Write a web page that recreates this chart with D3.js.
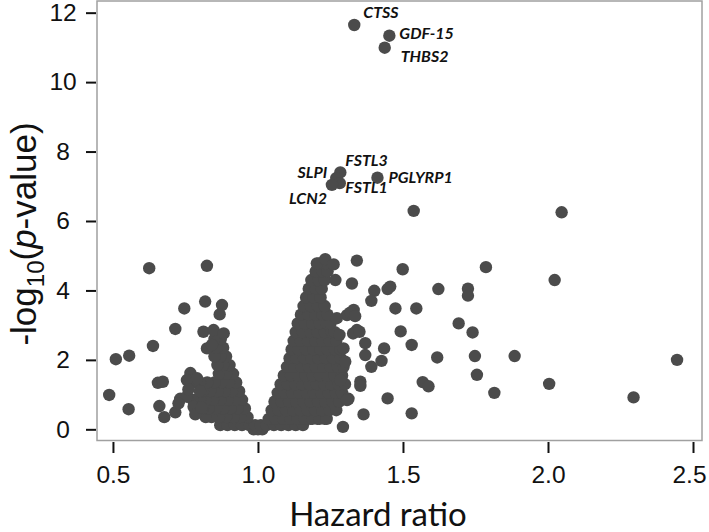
<!DOCTYPE html>
<html><head><meta charset="utf-8">
<script src="https://cdn.jsdelivr.net/npm/d3@7"></script>
<style>
html,body{margin:0;padding:0;background:#fff;}
svg{display:block;}
</style></head>
<body>
<svg id="chart" width="709" height="532"></svg>
<script>
// ---- axis ticks ----
const xTicks = [0.5, 1.0, 1.5, 2.0, 2.5];
const yTicks = [0, 2, 4, 6, 8, 10, 12];

// ---- labelled proteins ----
const labelNames = ["CTSS", "GDF-15", "THBS2", "FSTL3", "SLPI", "FSTL1", "LCN2", "PGLYRP1"];
const labelHR    = [1.332, 1.453, 1.437, 1.284, 1.270, 1.282, 1.255, 1.412];
const labelP     = [11.645, 11.336, 10.99, 7.40, 7.236, 7.09, 7.04, 7.246];

// ---- scattered (isolated) proteins: [hazard ratio, -log10 p] ----
const scatterPoints = [
  [0.487,0.99],[0.510,2.02],[0.556,2.12],[0.554,0.58],[0.625,4.64],[0.638,2.40],
  [0.655,1.34],[0.672,1.37],[0.660,0.67],[0.677,0.35],[0.715,0.49],[0.715,2.89],
  [0.746,3.48],[0.732,0.88],[0.755,0.94],[0.726,0.75],[0.767,1.62],[0.755,1.42],
  [0.778,0.65],[0.784,0.43],[0.790,1.47],[0.818,3.68],[0.824,4.71],[0.876,3.58],
  [0.868,3.31],[0.812,2.81],[0.847,2.86],[0.882,2.76],[0.824,2.33],[0.841,2.43],
  [0.800,1.10],[0.805,0.62],[0.760,1.15],
  [1.341,4.86],[1.203,4.78],[1.232,4.90],[1.261,4.75],[1.267,4.30],[1.324,4.20],
  [1.330,3.44],[1.307,3.29],[1.272,3.20],[1.318,3.36],[1.335,3.26],[1.341,2.86],
  [1.328,2.76],[1.350,2.81],[1.281,2.72],[1.370,2.48],[1.370,2.14],[1.301,1.95],
  [1.295,2.33],[1.391,1.80],[1.401,3.99],[1.391,3.70],[1.284,1.42],[1.353,1.37],
  [1.353,1.25],[1.312,0.88],[1.364,0.43],[1.293,0.07],[1.307,0.84],[1.447,0.89],
  [1.499,4.61],[1.786,4.67],[1.456,4.11],[1.447,4.04],[1.622,4.04],[1.724,4.05],
  [1.724,3.85],[2.023,4.30],[1.474,3.48],[1.546,3.48],[1.692,3.05],[1.492,2.82],
  [1.740,2.79],[1.530,2.43],[1.435,2.33],[1.426,1.97],[1.618,2.07],[1.748,2.11],
  [1.885,2.11],[2.445,2.00],[1.755,1.57],[1.568,1.36],[1.588,1.24],[2.004,1.31],
  [1.815,1.05],[2.295,0.92],[1.530,0.46],[1.537,6.29],[2.047,6.25]
];

// ---- the dense "V": rows of proteins, [-log10 p, [hazard ratios]] ----
const bottomRows = [
  [0.00, [0.985, 1.000, 1.015]],
  [0.12, [0.87,0.895,0.92,0.945,0.97,0.99,1.01,1.03,1.055,1.08,1.105,1.13,1.155]],
  [0.30, [1.18,1.205,1.23]]
];
const leftArmRows = [
  [0.35, [0.964,0.94,0.915,0.89,0.865,0.84,0.82]],
  [0.60, [0.955,0.93,0.905,0.88,0.855,0.83,0.81,0.79]],
  [0.85, [0.945,0.92,0.895,0.87,0.845,0.82,0.80,0.775]],
  [1.10, [0.935,0.91,0.885,0.86,0.835,0.81]],
  [1.35, [0.925,0.90,0.875,0.85,0.825,0.80,0.78]],
  [1.60, [0.914,0.89,0.865]],
  [1.85, [0.902,0.88,0.86]],
  [2.10, [0.89,0.87,0.85]],
  [2.35, [0.88,0.857]],
  [2.60, [0.872,0.85]]
];
const rightArmRows = [
  [0.30, [1.037,1.062,1.087,1.112,1.137,1.162,1.187,1.212,1.237]],
  [0.55, [1.047,1.072,1.097,1.122,1.147,1.172,1.197,1.222,1.247,1.27]],
  [0.80, [1.057,1.082,1.107,1.132,1.157,1.182,1.207,1.232,1.257,1.28]],
  [1.05, [1.068,1.093,1.118,1.143,1.168,1.193,1.218,1.243,1.268,1.29]],
  [1.30, [1.078,1.103,1.128,1.153,1.178,1.203,1.228,1.253,1.278,1.30]],
  [1.55, [1.089,1.114,1.139,1.164,1.189,1.214,1.239,1.264,1.29]],
  [1.80, [1.10,1.125,1.15,1.175,1.20,1.225,1.25,1.275,1.295]],
  [2.05, [1.109,1.134,1.159,1.184,1.209,1.234,1.259,1.285]],
  [2.30, [1.116,1.141,1.166,1.191,1.216,1.241,1.266,1.285]],
  [2.55, [1.123,1.148,1.173,1.198,1.223,1.248,1.27]],
  [2.80, [1.13,1.155,1.18,1.205,1.23,1.255,1.265]],
  [3.05, [1.137,1.162,1.187,1.212,1.237,1.25]],
  [3.30, [1.148,1.173,1.198,1.223,1.24]],
  [3.55, [1.157,1.182,1.207,1.23]],
  [3.80, [1.166,1.191,1.216]],
  [4.05, [1.175,1.20,1.22]],
  [4.30, [1.184,1.209,1.23]],
  [4.55, [1.199,1.222,1.24]],
  [4.78, [1.21,1.235]]
];

// ---- build point table ----
const pts = [];
[bottomRows, leftArmRows, rightArmRows].forEach(rows =>
  rows.forEach(([p, hrs]) => hrs.forEach(hr => pts.push({hr, p}))));
scatterPoints.forEach(([hr, p]) => pts.push({hr, p}));
labelNames.forEach((n, i) => pts.push({hr: labelHR[i], p: labelP[i], name: n}));

// ---- layout ----
const svg = d3.select("#chart");
const box = {left: 97, right: 702, top: 1, bottom: 440.5};
const x = d3.scaleLinear().domain([0.445, 2.531]).range([box.left, box.right]);
const y = d3.scaleLinear().domain([-0.322, 12.336]).range([box.bottom, box.top]);
const dotColor = "#4b4b4b";

// frame
svg.append("rect")
  .attr("x", box.left).attr("y", box.top)
  .attr("width", box.right - box.left).attr("height", box.bottom - box.top)
  .attr("fill", "none").attr("stroke", "#a0a0a0").attr("stroke-width", 1.5);

// points
svg.append("g").selectAll("circle").data(pts).join("circle")
  .attr("cx", d => x(d.hr)).attr("cy", d => y(d.p)).attr("r", 6.2)
  .attr("fill", dotColor);

// y axis
const yAx = svg.append("g").attr("transform", `translate(${box.left - 1},0)`)
  .call(d3.axisLeft(y).tickValues(yTicks).tickSize(10).tickFormat(d3.format("d")));
yAx.select(".domain").remove();
yAx.selectAll(".tick line").attr("stroke", "#111").attr("stroke-width", 2);
yAx.selectAll(".tick text").attr("text-anchor", "middle").attr("x", -33)
  .attr("font-family", "Liberation Sans, Arial, sans-serif").attr("font-size", 24.5).attr("fill", "#111");

// x axis
const xAx = svg.append("g").attr("transform", `translate(0,${box.bottom + 1.5})`)
  .call(d3.axisBottom(x).tickValues(xTicks).tickSize(11).tickFormat(d3.format(".1f")));
xAx.select(".domain").remove();
xAx.selectAll(".tick line").attr("stroke", "#111").attr("stroke-width", 2);
xAx.selectAll(".tick text").attr("y", 41).attr("dy", 0)
  .attr("x", d => d === xTicks[xTicks.length - 1] ? -4 : 0)
  .attr("font-family", "Liberation Sans, Arial, sans-serif").attr("font-size", 24.5).attr("fill", "#111");

// axis titles
svg.append("text").attr("x", 378).attr("y", 526).attr("text-anchor", "middle")
  .attr("font-family", "Lato, 'Open Sans', sans-serif").attr("font-size", 33).attr("fill", "#111")
  .text("Hazard ratio");

const yt = svg.append("text").attr("transform", "translate(36,234) rotate(-90)")
  .attr("text-anchor", "middle")
  .attr("font-family", "Liberation Sans, Arial, sans-serif").attr("font-size", 35).attr("fill", "#111");
yt.append("tspan").text("-log");
yt.append("tspan").attr("font-size", 24).attr("dy", 8).text("10");
yt.append("tspan").attr("dy", -8).text("(");
yt.append("tspan").attr("font-style", "italic").text("p");
yt.append("tspan").text("-value)");

// labels (offsets in px from the dot)
const labelOffsets = {
  "CTSS": [9, -7, "start"], "GDF-15": [10, 3, "start"], "THBS2": [16, 14, "start"],
  "FSTL3": [5, -6, "start"], "SLPI": [-9, 0, "end"], "FSTL1": [5.5, 10, "start"],
  "LCN2": [-5, 19, "end"], "PGLYRP1": [11, 5.5, "start"]
};
svg.append("g").selectAll("text").data(pts.filter(d => d.name)).join("text")
  .attr("x", d => x(d.hr) + labelOffsets[d.name][0])
  .attr("y", d => y(d.p) + labelOffsets[d.name][1])
  .attr("text-anchor", d => labelOffsets[d.name][2])
  .attr("font-family", "Lato, 'Open Sans', sans-serif").attr("font-weight", "bold")
  .attr("font-style", "italic").attr("font-size", 16).attr("fill", "#111")
  .text(d => d.name);
</script>
</body></html>
